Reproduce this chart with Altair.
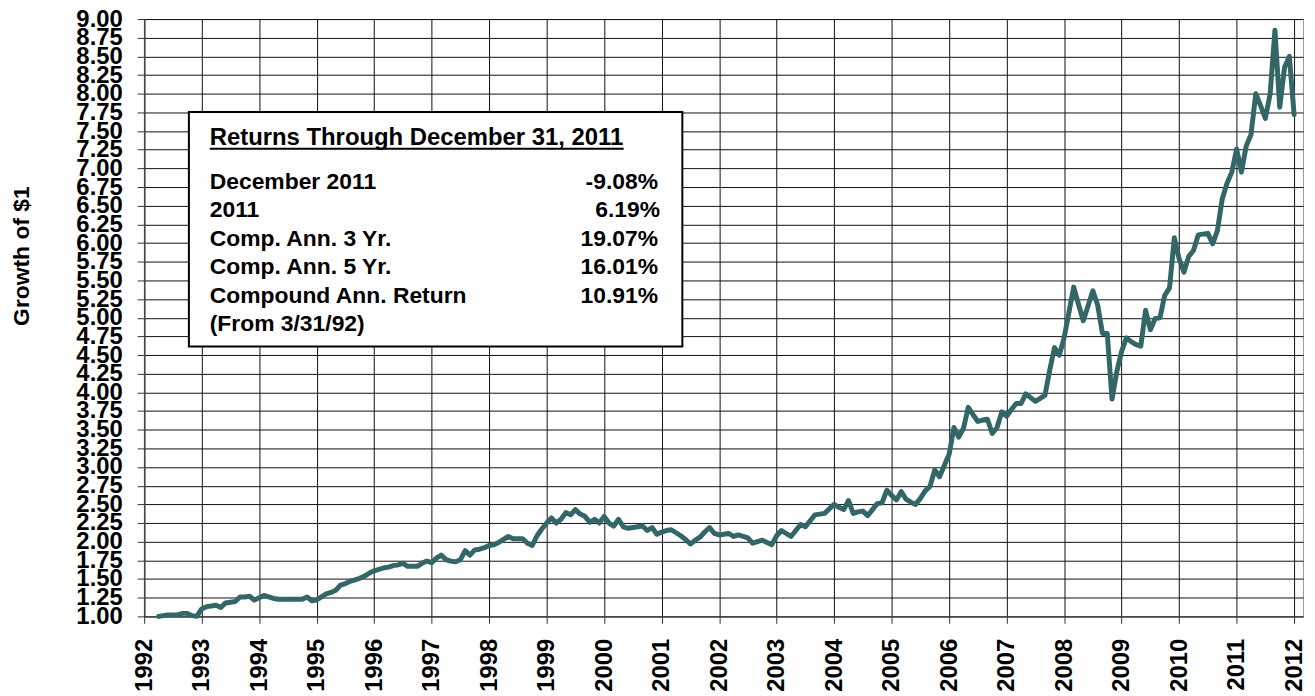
import altair as alt
import pandas as pd

# Month-end growth of $1 (first year starts at 3/31/92)
growth_1992 = [1.00, 1.01, 1.02, 1.02, 1.02, 1.04, 1.04, 1.01, 1.00, 1.10]
growth_1993 = [1.13, 1.14, 1.15, 1.12, 1.18, 1.19, 1.20, 1.26, 1.26, 1.27, 1.22, 1.25]
growth_1994 = [1.28, 1.26, 1.24, 1.23, 1.23, 1.23, 1.23, 1.23, 1.23, 1.26, 1.21, 1.22]
growth_1995 = [1.26, 1.30, 1.32, 1.35, 1.42, 1.44, 1.47, 1.49, 1.51, 1.54, 1.58, 1.61]
growth_1996 = [1.63, 1.65, 1.66, 1.68, 1.69, 1.71, 1.67, 1.67, 1.67, 1.71, 1.74, 1.72]
growth_1997 = [1.78, 1.82, 1.76, 1.74, 1.73, 1.76, 1.88, 1.82, 1.89, 1.90, 1.92, 1.95]
growth_1998 = [1.96, 1.99, 2.03, 2.07, 2.04, 2.04, 2.04, 1.98, 1.95, 2.08, 2.17, 2.25]
growth_1999 = [2.32, 2.25, 2.30, 2.39, 2.36, 2.43, 2.37, 2.34, 2.26, 2.30, 2.25, 2.34]
growth_2000 = [2.25, 2.21, 2.30, 2.20, 2.18, 2.19, 2.20, 2.21, 2.15, 2.19, 2.10, 2.13]
growth_2001 = [2.15, 2.16, 2.12, 2.08, 2.03, 1.97, 2.02, 2.06, 2.13, 2.19, 2.11, 2.09]
growth_2002 = [2.10, 2.11, 2.07, 2.09, 2.07, 2.05, 1.98, 2.00, 2.02, 1.99, 1.96, 2.08]
growth_2003 = [2.15, 2.11, 2.07, 2.15, 2.23, 2.20, 2.28, 2.36, 2.37, 2.38, 2.44, 2.50]
growth_2004 = [2.46, 2.43, 2.55, 2.38, 2.40, 2.41, 2.35, 2.43, 2.51, 2.52, 2.69, 2.62]
growth_2005 = [2.56, 2.67, 2.57, 2.53, 2.50, 2.58, 2.68, 2.74, 2.96, 2.87, 3.02, 3.17]
growth_2006 = [3.53, 3.40, 3.52, 3.80, 3.70, 3.61, 3.63, 3.64, 3.45, 3.53, 3.74, 3.68]
growth_2007 = [3.77, 3.85, 3.85, 3.98, 3.93, 3.88, 3.92, 3.96, 4.30, 4.60, 4.50, 4.73]
growth_2008 = [5.07, 5.41, 5.18, 4.96, 5.16, 5.36, 5.17, 4.79, 4.79, 3.91, 4.28, 4.55]
growth_2009 = [4.73, 4.68, 4.64, 4.62, 5.10, 4.84, 4.99, 5.00, 5.30, 5.40, 6.07, 5.79]
growth_2010 = [5.61, 5.82, 5.90, 6.11, 6.12, 6.13, 5.99, 6.17, 6.59, 6.80, 6.95, 7.26]
growth_2011 = [6.95, 7.30, 7.45, 8.00, 7.84, 7.67, 8.00, 8.85, 7.82, 8.35, 8.50, 7.72]

series = [
    (1992, growth_1992), (1993, growth_1993), (1994, growth_1994), (1995, growth_1995),
    (1996, growth_1996), (1997, growth_1997), (1998, growth_1998), (1999, growth_1999),
    (2000, growth_2000), (2001, growth_2001), (2002, growth_2002), (2003, growth_2003),
    (2004, growth_2004), (2005, growth_2005), (2006, growth_2006), (2007, growth_2007),
    (2008, growth_2008), (2009, growth_2009), (2010, growth_2010), (2011, growth_2011),
]

year_ticks = list(range(1992, 2013))
y_ticks = [1 + 0.25 * i for i in range(33)]

box_title = "Returns Through December 31, 2011"
box_labels = ["December 2011", "2011", "Comp. Ann. 3 Yr.", "Comp. Ann. 5 Yr.",
              "Compound Ann. Return", "(From 3/31/92)"]
box_values = ["-9.08%", "6.19%", "19.07%", "16.01%", "10.91%", ""]

rows = []
for year, vals in series:
    first_month = 12 - len(vals) + 1
    for i, v in enumerate(vals):
        rows.append({"t": year + (first_month + i) / 12.0, "growth": v})
df = pd.DataFrame(rows)

W, H = 1166, 601
FONT = "Liberation Sans"

x_axis = alt.Axis(values=year_ticks, format="d", labelAngle=-90, title=None,
                  tickSize=7, labelPadding=15, labelFontSize=24)
y_axis = alt.Axis(values=y_ticks, format=".2f", title="Growth of $1",
                  tickSize=7, labelPadding=15, labelFontSize=24,
                  titleFontSize=23, titleX=-123, titleY=238,
                  titleAlign="center", titleBaseline="middle", titleAngle=-90)

line = alt.Chart(df).mark_line(color="#336666", strokeWidth=5,
                               strokeJoin="round", strokeCap="round").encode(
    x=alt.X("t:Q", scale=alt.Scale(domain=[1992, 2012.155], nice=False, zero=False), axis=x_axis),
    y=alt.Y("growth:Q", scale=alt.Scale(domain=[1, 9], nice=False, zero=False), axis=y_axis),
)

one = pd.DataFrame({"a": [0]})
box = alt.Chart(one).mark_rect(fill="white", stroke="black", strokeWidth=2).encode(
    x=alt.value(45), x2=alt.value(541.5), y=alt.value(93.5), y2=alt.value(329.5)
)
underline = alt.Chart(one).mark_rule(color="black", strokeWidth=2).encode(
    x=alt.value(66), x2=alt.value(482.5), y=alt.value(130.5)
)
layers = [box, underline]
layers.append(alt.Chart(one).mark_text(
    text=box_title, font=FONT, fontSize=24, fontWeight="bold", align="left",
    baseline="alphabetic", color="black").encode(x=alt.value(66), y=alt.value(127)))
for i, (lab, val) in enumerate(zip(box_labels, box_values)):
    yy = 170.5 + i * 28.7
    layers.append(alt.Chart(one).mark_text(
        text=lab, font=FONT, fontSize=23, fontWeight="bold", align="left",
        baseline="alphabetic", color="black").encode(x=alt.value(66), y=alt.value(yy)))
    if val:
        layers.append(alt.Chart(one).mark_text(
            text=val, font=FONT, fontSize=23, fontWeight="bold", align="right",
            baseline="alphabetic", color="black").encode(
                x=alt.value(519 if val == "6.19%" else 517), y=alt.value(yy)))

chart = alt.layer(line, *layers).properties(
    width=W, height=H,
    autosize=alt.AutoSizeParams(type="none"),
    padding={"left": 137, "top": 9, "right": 4, "bottom": 79},
).configure(font=FONT).configure_view(
    stroke="#999999", strokeWidth=1
).configure_axis(
    labelFont=FONT, labelFontWeight="bold", labelColor="black",
    titleFont=FONT, titleFontWeight="bold", titleColor="black",
    tickColor="#333333", domainColor="#444444", domainWidth=1.5,
    grid=True, gridColor="#111111", gridWidth=1, gridOpacity=1,
    labelOverlap=False, labelFlush=False, labelBound=False,
)

chart.save("out.html", embed_options={"renderer": "svg", "actions": False})
